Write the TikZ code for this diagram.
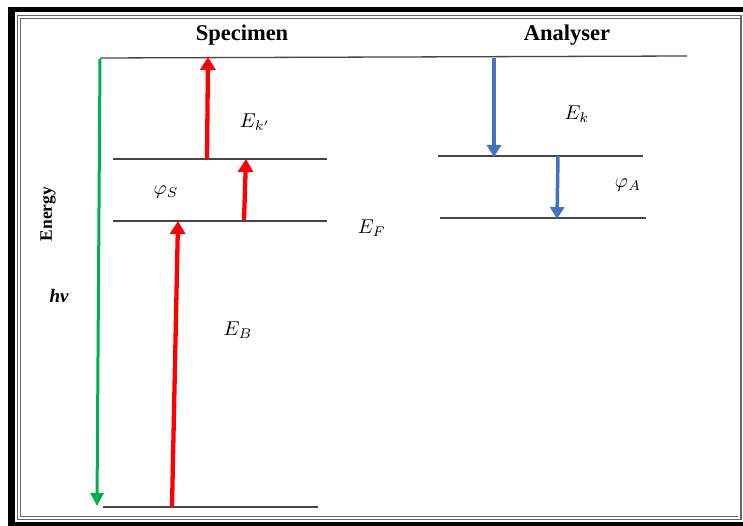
\documentclass[tikz,border=0pt]{standalone}
\usepackage{fontspec}
\setmainfont{Liberation Serif}
\usetikzlibrary{arrows.meta}
\definecolor{greenarr}{RGB}{0,176,80}
\definecolor{bluearr}{RGB}{68,114,196}
\definecolor{levelgray}{RGB}{70,70,70}
\newcommand{\bigsym}[1]{\scalebox{2.0}{$#1$}}
\tikzset{
  level/.style={draw=levelgray, line width=1.3pt},
  redarrow/.style={draw=red, line width=4.3pt, -{Triangle[width=15pt,length=13pt]}},
  bluearrow/.style={draw=bluearr, line width=3.5pt, -{Triangle[width=14pt,length=12pt]}},
  greenarrow/.style={draw=greenarr, line width=3pt, -{Triangle[width=13pt,length=13pt]}},
  title/.style={font=\fontsize{22.5}{26}\selectfont\bfseries, inner sep=0pt},
  sym/.style={inner sep=0pt},
}
\begin{document}
\begin{tikzpicture}[x=1pt,y=-1pt]
\useasboundingbox (0,0) rectangle (743,526);
\fill[white] (0,0) rectangle (743,526);
% frame
\fill[black] (8,7) rectangle (743,12);
\fill[black] (8,7) rectangle (15,526);
\fill[black] (8,521.5) rectangle (743,526);
\draw[gray!80!black, line width=1.3pt] (17.5,15.5) rectangle (741,519.5);
\draw[gray!80!black, line width=1pt] (20.5,18.5) -- (741,18.5);
\draw[gray!80!black, line width=1pt] (20.5,18.5) -- (20.5,516.5) -- (738,516.5);

% titles
\node[title] (spec) at (242,35) {Specimen};
\node[title] (anal) at (567,35) {Analyser};

% levels
\coordinate (topL) at (100,58);
\coordinate (topR) at (687,56);
\draw[level] (topL) -- (topR);
\coordinate (vacL) at (113,159); \coordinate (vacR) at (327,159);
\draw[level] (vacL) -- (vacR);
\coordinate (efL) at (113,221); \coordinate (efR) at (327,221);
\draw[level] (efL) -- (efR);
\coordinate (botL) at (103,507); \coordinate (botR) at (318,507);
\draw[level] (botL) -- (botR);
\coordinate (a1L) at (438,156); \coordinate (a1R) at (643,156);
\draw[level] (a1L) -- (a1R);
\coordinate (a2L) at (440,218); \coordinate (a2R) at (646,218);
\draw[level] (a2L) -- (a2R);

% arrows
\coordinate (g1) at (100,59); \coordinate (g2) at (97,506);
\draw[greenarrow] (g1) -- (g2);
\coordinate (r1a) at (172,507); \coordinate (r1b) at (178,221);
\draw[redarrow] (r1a) -- (r1b);
\coordinate (r2a) at (244,220); \coordinate (r2b) at (246,159);
\draw[redarrow] (r2a) -- (r2b);
\coordinate (r3a) at (207,159); \coordinate (r3b) at (208,57);
\draw[redarrow] (r3a) -- (r3b);
\coordinate (b1a) at (494,58); \coordinate (b1b) at (494,157);
\draw[bluearrow] (b1a) -- (b1b);
\coordinate (b2a) at (558,156); \coordinate (b2b) at (557,219);
\draw[bluearrow] (b2a) -- (b2b);

% labels
\node[sym] (ek1) at (255,122) {\bigsym{E_{k'}}};
\node[sym] (phis) at (166,192) {\bigsym{\varphi_S}};
\node[sym] (ef) at (372,228) {\bigsym{E_F}};
\node[sym] (eb) at (238,330) {\bigsym{E_B}};
\node[sym] (ek) at (577,114) {\bigsym{E_k}};
\node[sym] (phia) at (628,185) {\bigsym{\varphi_A}};
\node[font=\fontsize{17.5}{20}\selectfont\bfseries, rotate=90, inner sep=0pt] (energy) at (48,214) {Energy};
\node[font=\fontsize{19}{22}\selectfont\bfseries\itshape, inner sep=0pt] (hv) at (59,296) {hv};
\end{tikzpicture}
\end{document}
